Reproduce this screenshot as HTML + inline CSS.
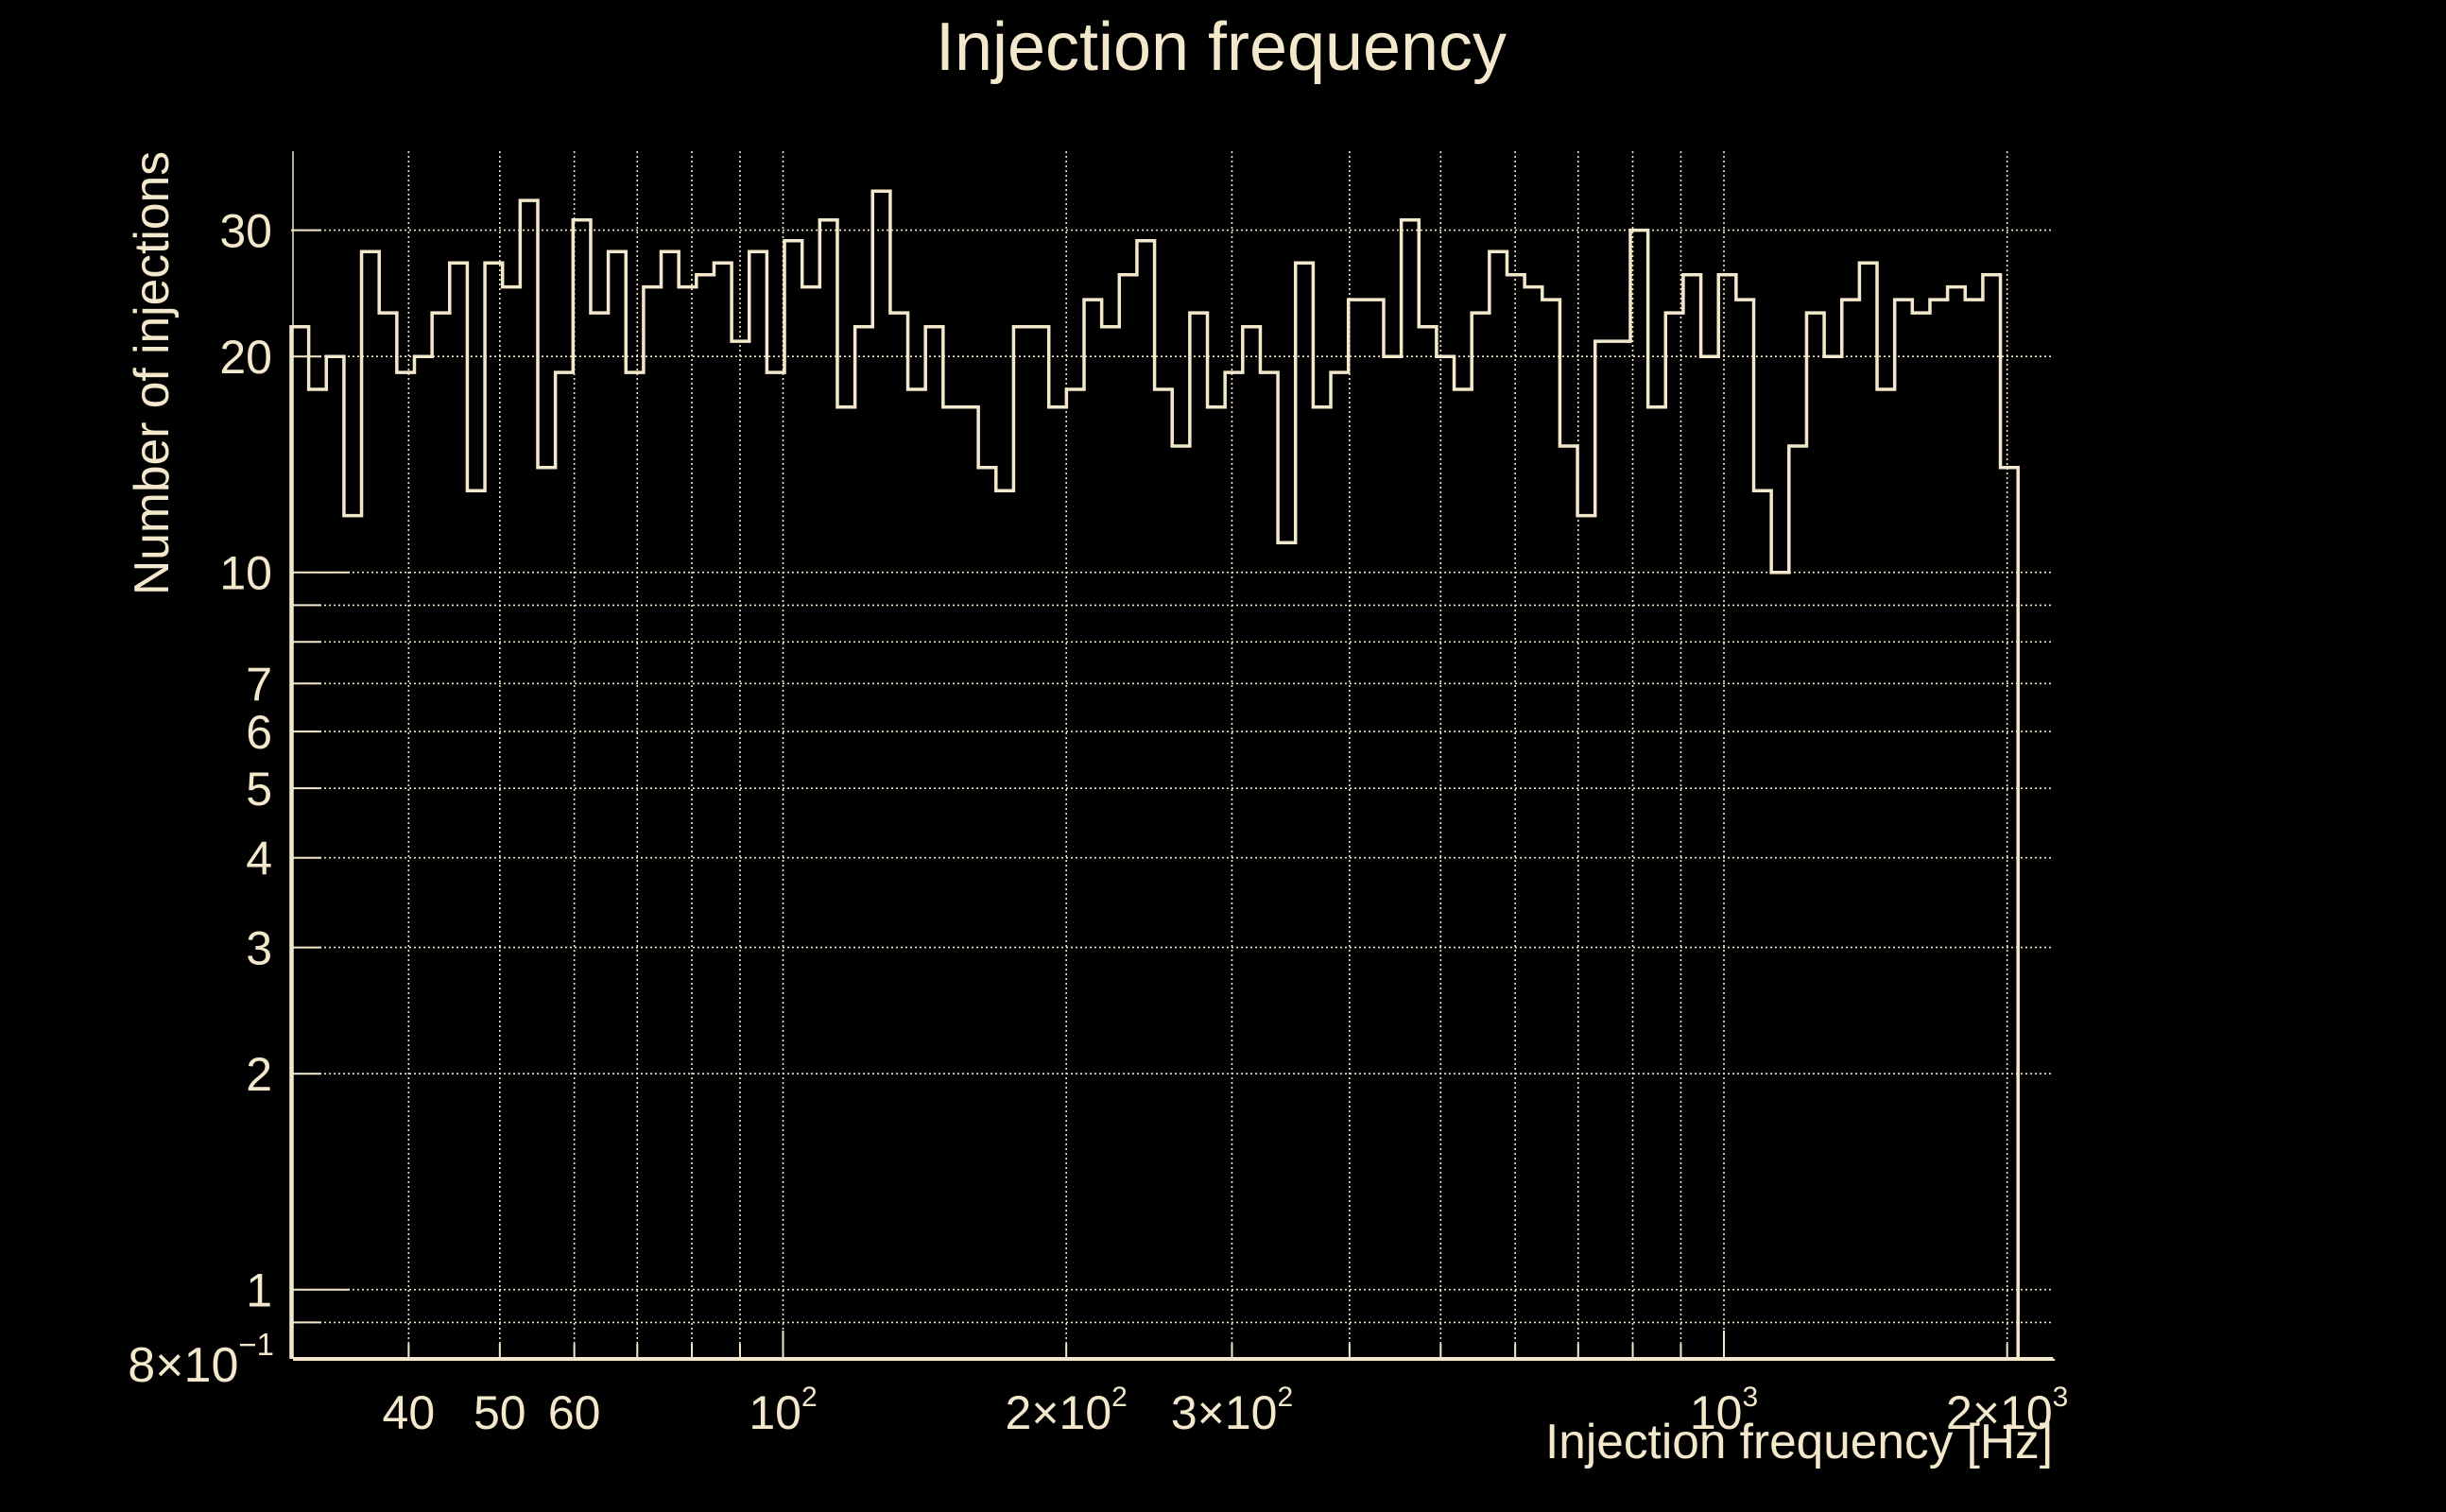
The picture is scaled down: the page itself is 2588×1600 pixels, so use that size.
<!DOCTYPE html>
<html><head><meta charset="utf-8"><style>
html,body{margin:0;padding:0;background:#000;}
svg{display:block;}
text{font-family:"Liberation Sans",sans-serif;fill:#f3e8cb;}
</style></head><body>
<svg id="chart" width="2588" height="1600" viewBox="0 0 2588 1600" xmlns="http://www.w3.org/2000/svg">
<rect width="2588" height="1600" fill="#000"/>
<text x="1292" y="74" font-size="72" text-anchor="middle" textLength="604" lengthAdjust="spacingAndGlyphs">Injection frequency</text>
<g id="grid"></g>
<g id="axes"></g>
<g id="hist"></g>
<text x="2172" y="1543" font-size="52" text-anchor="end" textLength="537" lengthAdjust="spacingAndGlyphs">Injection frequency [Hz]</text>
<text transform="translate(178,160) rotate(-90)" font-size="52" text-anchor="end" textLength="470" lengthAdjust="spacingAndGlyphs">Number of injections</text>
</svg>
<script>
const counts = [22,18,20,12,28,23,19,20,23,27,13,27,25,33,14,19,31,23,28,19,25,28,25,26,27,
21,28,19,29,25,31,17,22,34,23,18,22,17,17,14,13,22,22,17,18,24,22,26,29,18,
15,23,17,19,22,19,11,27,17,19,24,24,20,31,22,20,18,23,28,26,25,24,15,12,21,
21,30,17,23,26,20,26,24,13,10,15,23,20,24,27,18,24,23,24,25,24,26,14,0,0];
const binRange = [30, 2239];
const yGridValues = [0.9,1,2,3,4,5,6,7,8,9,10,20,30];
const yLabelValues = [1,2,3,4,5,6,7,10,20,30];
const yLabelTexts = ["1","2","3","4","5","6","7","10","20","30"];
const xGridValues = [40,50,60,70,80,90,100,200,300,400,500,600,700,800,900,1000,2000];
const xLabelValues = [40,50,60,100,200,300,1000,2000];
const xLabelMain = ["40","50","60","10","2\u00d710","3\u00d710","10","2\u00d710"];
const xLabelExp = ["","","","2","2","2","3","3"];

const C = "#f3e8cb";
const NS = "http://www.w3.org/2000/svg";
const L = 308, R = 2172, T = 160, B = 1438;
const xDec = 995.5, yDec = 759;
function x(v){ return 828.5 + (Math.log10(v) - 2) * xDec; }
function y(v){ return 605.7 - (Math.log10(v) - 1) * yDec; }
function mk(tag, attrs, parent){ const e = document.createElementNS(NS, tag); for (const k in attrs) e.setAttribute(k, attrs[k]); parent.appendChild(e); return e; }
const grid = document.getElementById('grid'), axes = document.getElementById('axes'), hist = document.getElementById('hist');

yGridValues.forEach(v => {
  const g = mk('line', {x1:L, x2:R, y1:y(v), y2:y(v), stroke:C, 'stroke-width':1.6, 'stroke-dasharray':'2 3'}, grid);
  
  
  const major = (v === 1 || v === 10);
  const t = mk('line', {x1:L, x2:L + (major ? 62 : 32), y1:y(v), y2:y(v), stroke:C, 'stroke-width':2}, axes);
  
  
});
xGridValues.forEach(v => {
  const g = mk('line', {x1:x(v), x2:x(v), y1:T, y2:B, stroke:C, 'stroke-width':1.6, 'stroke-dasharray':'2 3'}, grid);
  
  
  const major = (v === 100 || v === 1000);
  const t = mk('line', {x1:x(v), x2:x(v), y1:B, y2:B - (major ? 30 : 16), stroke:C, 'stroke-width':2}, axes);
  
  
});
const ya = mk('line', {x1:310, x2:310, y1:T, y2:B, stroke:C, 'stroke-width':1.5}, axes);


const xa = mk('line', {x1:310, x2:R, y1:B, y2:B, stroke:C, 'stroke-width':4}, axes);



yLabelValues.forEach((v, i) => {
  const t = mk('text', {x:288, y:y(v) + 18, 'font-size':50, 'text-anchor':'end'}, axes);
  t.textContent = yLabelTexts[i];
  
  
});
const yb = mk('text', {x:290, y:B + 24, 'font-size':52, 'text-anchor':'end'}, axes);


yb.innerHTML = '8\u00d710<tspan font-size="33" dy="-28">\u22121</tspan>';

xLabelValues.forEach((v, i) => {
  const t = mk('text', {x:x(v), y:1512, 'font-size':50, 'text-anchor':'middle'}, axes);
  
  
  if (xLabelExp[i]) {
    t.innerHTML = xLabelMain[i] + '<tspan font-size="30" dy="-24">' + xLabelExp[i] + '</tspan>';
  } else {
    t.textContent = xLabelMain[i];
  }
});

const lo = Math.log10(binRange[0]), hi = Math.log10(binRange[1]), n = counts.length;
const yMin = 0.8;
function edge(i){ return x(Math.pow(10, lo + (hi - lo) * i / n)); }
let d = 'M' + edge(0) + ' ' + B;
counts.forEach((c, i) => {
  const yy = c > 0 ? y(c) : y(yMin);
  d += ' L' + edge(i) + ' ' + yy + ' L' + edge(i + 1) + ' ' + yy;
});
d += ' L' + edge(n) + ' ' + B;
const p = mk('path', {d:d, fill:'none', stroke:C, 'stroke-width':3.5, 'stroke-linejoin':'miter'}, hist);


</script>
</body></html>
